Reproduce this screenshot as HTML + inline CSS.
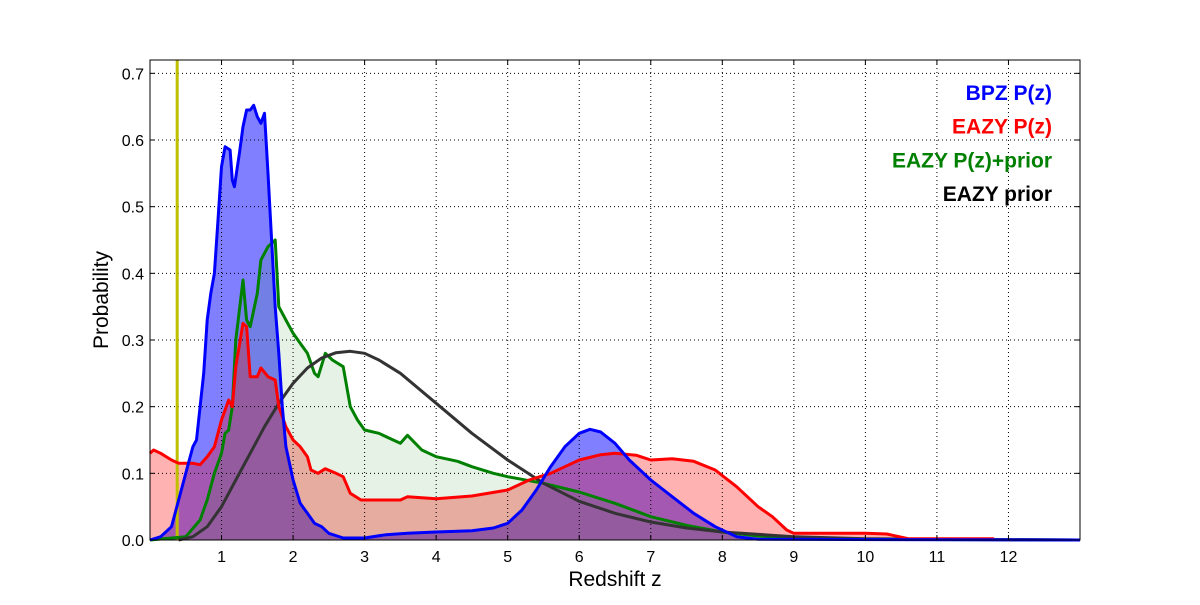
<!DOCTYPE html>
<html><head><meta charset="utf-8"><style>
body{margin:0;background:#fff}
svg text{font-family:"Liberation Sans","DejaVu Sans",sans-serif}
</style></head><body>
<svg id="chart" width="1200" height="600" xmlns="http://www.w3.org/2000/svg">
<rect width="1200" height="600" fill="#fff"/>
<g id="fills"></g><g id="grid"></g><g id="lines"></g><g id="axes"></g>
</svg>
<script>
const xTicks=[1,2,3,4,5,6,7,8,9,10,11,12];
const yTicks=[0.0,0.1,0.2,0.3,0.4,0.5,0.6,0.7];
const bpzZ=[0,0.15,0.3,0.45,0.55,0.6,0.65,0.75,0.8,0.85,0.9,0.95,1.0,1.05,1.12,1.15,1.18,1.25,1.3,1.35,1.4,1.45,1.5,1.55,1.6,1.65,1.7,1.75,1.8,1.85,1.9,2.0,2.1,2.2,2.3,2.4,2.5,2.7,3.0,3.3,3.6,4.0,4.5,4.8,5.0,5.2,5.4,5.6,5.8,6.0,6.15,6.3,6.5,6.7,7.0,7.3,7.6,7.9,8.2,8.5,13];
const bpzP=[0,0.005,0.02,0.08,0.12,0.14,0.15,0.25,0.33,0.37,0.4,0.48,0.56,0.59,0.585,0.54,0.53,0.58,0.62,0.645,0.645,0.652,0.635,0.625,0.64,0.55,0.45,0.35,0.28,0.2,0.14,0.09,0.055,0.04,0.025,0.02,0.01,0.003,0.003,0.008,0.01,0.012,0.014,0.018,0.025,0.045,0.075,0.11,0.14,0.16,0.166,0.162,0.145,0.12,0.09,0.065,0.04,0.02,0.005,0.001,0];
const eazyZ=[0,0.05,0.15,0.3,0.4,0.5,0.6,0.7,0.8,0.9,1.0,1.1,1.15,1.2,1.3,1.35,1.4,1.5,1.55,1.65,1.75,1.8,1.9,2.0,2.1,2.2,2.25,2.35,2.45,2.6,2.7,2.8,2.95,3.2,3.5,3.6,4.0,4.5,5.0,5.3,5.6,5.8,6.0,6.3,6.5,6.8,7.0,7.3,7.6,7.9,8.2,8.5,8.7,8.9,9.0,10.0,10.3,10.6,11.8];
const eazyP=[0.13,0.135,0.13,0.12,0.115,0.115,0.115,0.113,0.125,0.14,0.18,0.21,0.2,0.26,0.325,0.32,0.245,0.245,0.258,0.245,0.24,0.2,0.17,0.15,0.14,0.125,0.105,0.1,0.107,0.1,0.095,0.07,0.06,0.06,0.06,0.065,0.062,0.066,0.075,0.09,0.1,0.11,0.12,0.128,0.13,0.127,0.12,0.122,0.118,0.105,0.08,0.05,0.035,0.015,0.01,0.01,0.009,0.002,0.002];
const priorPZ=[0,0.5,0.7,0.8,0.9,1.0,1.05,1.1,1.15,1.2,1.3,1.35,1.4,1.5,1.55,1.65,1.75,1.8,1.9,2.0,2.1,2.2,2.3,2.35,2.45,2.55,2.7,2.8,2.9,3.0,3.2,3.4,3.5,3.6,3.8,4.0,4.3,4.5,4.8,5.0,5.5,6.0,6.5,7.0,7.5,8.0,8.5,9,10,13];
const priorPP=[0,0.005,0.03,0.06,0.1,0.13,0.16,0.165,0.2,0.3,0.39,0.33,0.32,0.37,0.42,0.44,0.45,0.35,0.33,0.31,0.295,0.28,0.25,0.245,0.28,0.27,0.26,0.2,0.18,0.165,0.16,0.15,0.145,0.157,0.135,0.125,0.118,0.11,0.1,0.095,0.085,0.072,0.055,0.035,0.022,0.012,0.006,0.003,0.001,0];
const priorZ=[0.4,0.6,0.8,1.0,1.2,1.4,1.6,1.8,2.0,2.2,2.4,2.6,2.8,3.0,3.2,3.5,4.0,4.5,5.0,5.5,6.0,6.5,7.0,7.5,8.0,9.0,10,11,13];
const priorP=[0,0.005,0.02,0.05,0.09,0.13,0.17,0.205,0.235,0.258,0.273,0.281,0.283,0.28,0.27,0.25,0.205,0.16,0.12,0.085,0.058,0.04,0.027,0.018,0.012,0.005,0.002,0.001,0];
const markerZ=[0.38];
const legendLabels=["BPZ P(z)","EAZY P(z)","EAZY P(z)+prior","EAZY prior"];

const X0=150,X1=1080,Y0=60,Y1=540,ZMAX=13,PMAX=0.72;
const sx=z=>X0+z*(X1-X0)/ZMAX, sy=p=>Y1-p*(Y1-Y0)/PMAX;
const NS="http://www.w3.org/2000/svg";
function mk(tag,parent,attrs){const e=document.createElementNS(NS,tag);for(const k in attrs)e.setAttribute(k,attrs[k]);parent.appendChild(e);return e;}
const pts=(zs,ps)=>zs.map((z,i)=>sx(z).toFixed(1)+","+sy(ps[i]).toFixed(1)).join(" ");
const fills=document.getElementById("fills"),lines=document.getElementById("lines"),grid=document.getElementById("grid"),axes=document.getElementById("axes");

function fill(zs,ps,color,op,name){
 const e=mk("polygon",fills,{points:sx(zs[0])+","+sy(0)+" "+pts(zs,ps)+" "+sx(zs[zs.length-1])+","+sy(0),fill:color,"fill-opacity":op});
 
 
}
fill(bpzZ,bpzP,"#0000ff",0.5,"bpz-fill");
fill(eazyZ,eazyP,"#ff0000",0.3,"eazy-fill");
fill(priorPZ,priorPP,"#008000",0.1,"eazy-prior-pz-fill");

xTicks.forEach(t=>{const e=mk("line",grid,{x1:sx(t),x2:sx(t),y1:Y0,y2:Y1,stroke:"#000","stroke-width":1,"stroke-dasharray":"1,3"});
 
 });
yTicks.forEach(t=>{const e=mk("line",grid,{x1:X0,x2:X1,y1:sy(t),y2:sy(t),stroke:"#000","stroke-width":1,"stroke-dasharray":"1,3"});
 
 });

function line(zs,ps,color,name){const e=mk("polyline",lines,{points:pts(zs,ps),fill:"none",stroke:color,"stroke-width":3,"stroke-linejoin":"round"});
 
 }
markerZ.forEach(z=>{const e=mk("line",lines,{x1:sx(z),x2:sx(z),y1:Y0,y2:Y1,stroke:"#bfbf00","stroke-width":3});
 
 });
line(priorPZ,priorPP,"#008000","eazy-pz-prior-line");
line(priorZ,priorP,"#333333","eazy-prior-line");
line(eazyZ,eazyP,"#ff0000","eazy-pz-line");
line(bpzZ,bpzP,"#0000ff","bpz-pz-line");

const frame=mk("rect",axes,{x:X0,y:Y0,width:X1-X0,height:Y1-Y0,fill:"none",stroke:"#000","stroke-width":1});


xTicks.forEach(t=>{
 mk("line",axes,{x1:sx(t),x2:sx(t),y1:Y1,y2:Y1-5,stroke:"#000"});mk("line",axes,{x1:sx(t),x2:sx(t),y1:Y0,y2:Y0+5,stroke:"#000"});
 const e=mk("text",axes,{x:sx(t),y:Y1+22,"text-anchor":"middle","font-size":16});e.textContent=t;
 
 });
yTicks.forEach(t=>{
 mk("line",axes,{x1:X0,x2:X0+5,y1:sy(t),y2:sy(t),stroke:"#000"});mk("line",axes,{x1:X1,x2:X1-5,y1:sy(t),y2:sy(t),stroke:"#000"});
 const e=mk("text",axes,{x:X0-6,y:sy(t)+6,"text-anchor":"end","font-size":16});e.textContent=t.toFixed(1);
 
 });
const xt=mk("text",axes,{x:615,y:586,"text-anchor":"middle","font-size":21});xt.textContent="Redshift z";


const yt=mk("text",axes,{x:108,y:300,"text-anchor":"middle","font-size":21,transform:"rotate(-90 108 300)"});yt.textContent="Probability";


const lc=["#0000ff","#ff0000","#008000","#000000"];
legendLabels.forEach((l,i)=>{const e=mk("text",axes,{x:1052,y:100+i*33.7,"text-anchor":"end","font-size":21,"font-weight":"bold",fill:lc[i]});e.textContent=l;
 
 });
</script>
</body></html>
